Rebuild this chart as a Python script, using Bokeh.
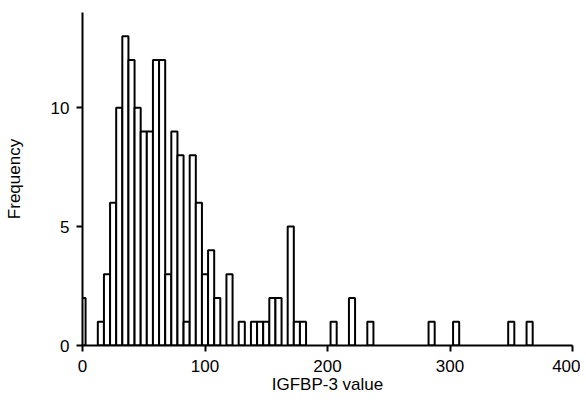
from bokeh.plotting import figure
from bokeh.models import FixedTicker, Range1d
from bokeh.embed import file_html
from bokeh.resources import INLINE

bin_centers = [0, 15, 20, 25, 30, 35, 40, 45, 50, 55, 60, 65, 70, 75, 80, 85, 90, 95,
               100, 105, 110, 120, 130, 140, 145, 150, 155, 160, 170, 175, 180,
               205, 220, 235, 285, 305, 350, 365]
counts = [2, 1, 3, 6, 10, 13, 12, 10, 9, 9, 12, 12, 3, 9, 8, 1, 8, 6,
          3, 4, 2, 3, 1, 1, 1, 1, 2, 2, 5, 1, 1,
          1, 2, 1, 1, 1, 1, 1]
bin_width = 5
x_ticks = [0, 100, 200, 300, 400]
y_ticks = [0, 5, 10]

p = figure(width=580, height=400, output_backend="svg", toolbar_location=None,
           x_range=Range1d(0, 400), y_range=Range1d(0, 14),
           min_border_left=82, min_border_right=8, min_border_top=12, min_border_bottom=55)
p.outline_line_color = None
p.grid.visible = False
p.background_fill_color = "white"
p.border_fill_color = "white"

left = [c - bin_width / 2 for c in bin_centers]
right = [c + bin_width / 2 for c in bin_centers]
p.quad(left=left, right=right, top=counts, bottom=0,
       fill_color="white", line_color="black", line_width=2)

for ax in (p.xaxis[0], p.yaxis[0]):
    ax.axis_line_width = 2
    ax.axis_line_color = "black"
    ax.major_tick_line_width = 2
    ax.major_tick_line_color = "black"
    ax.major_tick_out = 6
    ax.major_tick_in = 0
    ax.minor_tick_line_color = None
    ax.major_label_text_font = "Liberation Sans"
    ax.major_label_text_font_size = "17px"
    ax.major_label_text_color = "black"
    ax.axis_label_text_font = "Liberation Sans"
    ax.axis_label_text_font_size = "17px"
    ax.axis_label_text_font_style = "normal"
    ax.axis_label_text_color = "black"

p.xaxis.ticker = FixedTicker(ticks=x_ticks)
p.yaxis.ticker = FixedTicker(ticks=y_ticks)
p.xaxis.axis_label = "IGFBP-3 value"
p.yaxis.axis_label = "Frequency"
p.xaxis.major_label_standoff = 8
p.xaxis.axis_label_standoff = 0
p.yaxis.major_label_standoff = 7
p.yaxis.axis_label_standoff = 24

open("out.html", "w").write(file_html(p, INLINE))
